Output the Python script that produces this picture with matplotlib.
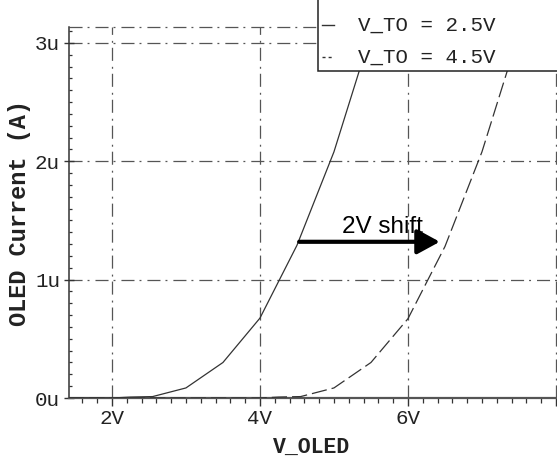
import matplotlib
matplotlib.use('Agg')
import matplotlib.pyplot as plt
from matplotlib.patches import Rectangle
from matplotlib.lines import Line2D
from matplotlib.ticker import MultipleLocator, FixedLocator, FixedFormatter

plt.rcParams['lines.scale_dashes'] = False

# ---- data ----
v_solid = [1.42, 2.0, 2.25, 2.55, 3.0, 3.5, 4.0, 4.5, 5.0, 5.5]
i_solid = [0.0, 0.0, 0.008, 0.012, 0.085, 0.30, 0.675, 1.29, 2.08, 3.08]
v_dashed = [1.42, 4.0, 4.25, 4.55, 5.0, 5.5, 6.0, 6.5, 7.0, 7.5]
i_dashed = [0.0, 0.0, 0.008, 0.012, 0.085, 0.30, 0.67, 1.28, 2.08, 3.08]
series_labels = ['V_TO = 2.5V', 'V_TO = 4.5V']
x_ticks = [2, 4, 6, 8]
x_tick_labels = ['2V', '4V', '6V', '']
y_ticks = [0, 1, 2, 3]
y_tick_labels = ['0u', '1u', '2u', '3u']
arrow_from = (4.53, 1.32)
arrow_to = (6.43, 1.32)
arrow_text = '2V shift'
arrow_text_pos = (5.11, 1.394)

W, H = 557, 461
mono = 'Liberation Mono'
grid_col = '#555555'
grid_ls = (0, (9.4, 3.6, 1.4, 4.3))

fig = plt.figure(figsize=(W / 100, H / 100), dpi=100)
ax = fig.add_axes([69 / W, 1 - 398 / H, (W - 69) / W, 371 / H])
ax.set_xlim(1.42, 8.014)
ax.set_ylim(0, 3.135)

ax.plot(v_solid, i_solid, color='#333333', lw=0.9, solid_capstyle='butt', zorder=3)
ax.plot(v_dashed, i_dashed, color='#333333', lw=0.9, ls=(0, (11, 3.6)), zorder=3)

# grid
ax.xaxis.set_major_locator(FixedLocator(x_ticks))
ax.xaxis.set_major_formatter(FixedFormatter(x_tick_labels))
ax.yaxis.set_major_locator(FixedLocator(y_ticks))
ax.yaxis.set_major_formatter(FixedFormatter(y_tick_labels))
ax.xaxis.set_minor_locator(MultipleLocator(0.2))
ax.yaxis.set_minor_locator(MultipleLocator(0.1))
ax.grid(True, which='major', color=grid_col, lw=0.9, ls=grid_ls, zorder=1)
ax.axhline(3.135, color=grid_col, lw=0.9, ls=grid_ls, clip_on=False, zorder=1)

for s in ['top', 'right']:
    ax.spines[s].set_visible(False)
ax.spines['left'].set_color('#333333')
ax.spines['left'].set_linewidth(1.1)
ax.spines['bottom'].set_color('#555555')
ax.spines['bottom'].set_linewidth(1.6)

ax.tick_params(axis='x', which='major', direction='out', length=6, width=1.0,
               color='#333333', pad=2, labelsize=15, labelcolor='#222222')
ax.tick_params(axis='x', which='minor', direction='out', length=3.5, width=0.9,
               color='#333333')
ax.tick_params(axis='y', which='major', direction='inout', length=7, width=1.0,
               color='#333333', pad=3, labelsize=15, labelcolor='#222222')
ax.tick_params(axis='y', which='minor', direction='in', length=2.3, width=0.9,
               color='#333333')
for lab in ax.get_xticklabels() + ax.get_yticklabels():
    lab.set_fontfamily(mono)

ax.set_xlabel('V_OLED', fontfamily=mono, fontweight='bold', fontsize=15.5, color='#222222')
ax.xaxis.set_label_coords((312 - 69) / (W - 69), -(437 - 398) / 371)
ax.set_ylabel('OLED Current (A)', fontfamily=mono, fontweight='bold', fontsize=17, color='#222222')
ax.yaxis.set_label_coords(-(69 - 31) / (W - 69), 0.5)

# annotation arrow
ax.annotate('', xy=arrow_to, xytext=arrow_from,
            arrowprops=dict(arrowstyle='-|>,head_length=0.55,head_width=0.3',
                            lw=3, color='black', mutation_scale=25,
                            shrinkA=0, shrinkB=0), zorder=4)
ax.text(arrow_text_pos[0], arrow_text_pos[1], arrow_text, fontfamily='Liberation Sans',
        fontsize=17.5, ha='left', va='baseline', color='black', zorder=4)

# legend box (partially outside the figure, as in the reference)
fig.add_artist(Rectangle((318 / W, 1 - 71 / H), 0.5, 0.3, transform=fig.transFigure,
                         facecolor='white', edgecolor='#222222', lw=1.1, zorder=5))
legend_y = [25, 57]
legend_base = [31, 63]
legend_styles = ['-', (0, (2.2, 2.2))]
for lab, yc, yb, st in zip(series_labels, legend_y, legend_base, legend_styles):
    fig.add_artist(Line2D([322 / W, 334 / W], [1 - yc / H] * 2, transform=fig.transFigure,
                          color='#333333', lw=1.0, ls=st, zorder=6))
    fig.text(358 / W, 1 - yb / H, lab, fontfamily=mono, fontsize=15, ha='left',
             va='baseline', color='#222222', zorder=6)

fig.savefig('out.png', dpi=100)
